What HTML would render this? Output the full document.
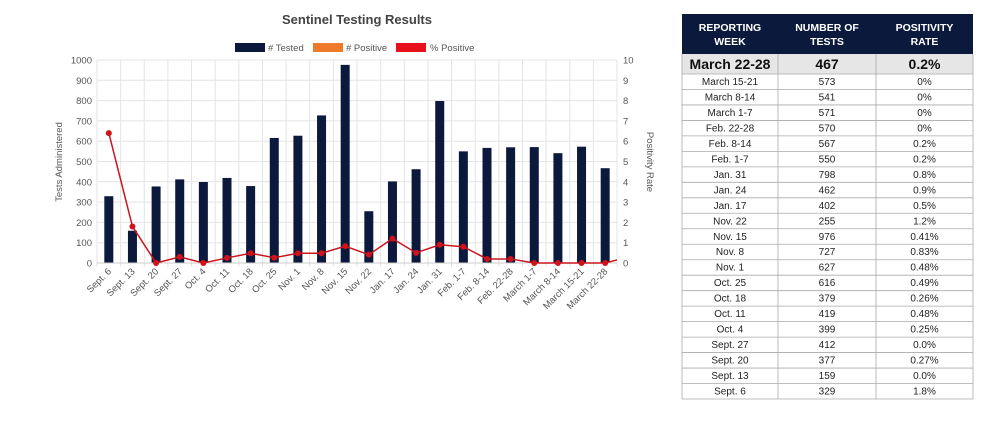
<!DOCTYPE html>
<html><head><meta charset="utf-8"><style>
body{margin:0;background:#fff;width:1000px;height:423px;overflow:hidden;font-family:"Liberation Sans",sans-serif}
</style></head><body>
<svg id="s" width="1000" height="423" xmlns="http://www.w3.org/2000/svg" font-family="Liberation Sans, sans-serif"></svg>
<script>
const s=document.getElementById('s');let h='';
const L=97,R=617,T=60,B=263;
h+=`<text x="357" y="24" text-anchor="middle" font-size="13" font-weight="bold" fill="#444">Sentinel Testing Results</text>`;
h+=`<rect x="235" y="43" width="30" height="9" fill="#0b1a3c"/><text x="268" y="51" font-size="9.5" fill="#555"># Tested</text>`;
h+=`<rect x="313" y="43" width="30" height="9" fill="#ee7a2a"/><text x="346" y="51" font-size="9.5" fill="#555"># Positive</text>`;
h+=`<rect x="396" y="43" width="30" height="9" fill="#e8101a"/><text x="430" y="51" font-size="9.5" fill="#555">% Positive</text>`;
for(let i=0;i<=10;i++){const y=B-(B-T)*i/10;
h+=`<line x1="${L}" x2="${R}" y1="${y}" y2="${y}" stroke="#e4e4e4"/>`;
h+=`<text x="${L-5}" y="${y+3.5}" text-anchor="end" font-size="9.5" fill="#555">${i*100}</text>`;
h+=`<text x="${R+6}" y="${y+3.5}" font-size="9.5" fill="#555">${i}</text>`;}
const labs=["Sept. 6","Sept. 13","Sept. 20","Sept. 27","Oct. 4","Oct. 11","Oct. 18","Oct. 25","Nov. 1","Nov. 8","Nov. 15","Nov. 22","Jan. 17","Jan. 24","Jan. 31","Feb. 1-7","Feb. 8-14","Feb. 22-28","March 1-7","March 8-14","March 15-21","March 22-28"];
const bars=[329,159,377,412,399,419,379,616,627,727,976,255,402,462,798,550,567,570,571,541,573,467];
const pct=[6.4,1.8,0,0.3,0,0.25,0.48,0.26,0.48,0.48,0.83,0.41,1.2,0.5,0.9,0.8,0.2,0.2,0,0,0,0];
const w=(R-L)/22;
for(let i=0;i<=22;i++){const x=L+w*i;h+=`<line x1="${x}" x2="${x}" y1="${T}" y2="${B+4}" stroke="#e4e4e4"/>`;}
let pts=[];
bars.forEach((v,i)=>{const cx=L+w*(i+0.5);const y=B-(B-T)*v/1000;
h+=`<rect x="${cx-4.5}" y="${y}" width="9" height="${B-y}" fill="#0b1a3c"/>`;
h+=`<text transform="translate(${cx+3},${B+9}) rotate(-45)" text-anchor="end" font-size="9.5" fill="#555">${labs[i]}</text>`;
pts.push([cx,B-(B-T)*pct[i]/10]);});
pts.push([R,B-(B-T)*0.15/10]);
h+=`<line x1="${L}" x2="${R}" y1="${B}" y2="${B}" stroke="#ccc"/>`;
h+=`<polyline points="${pts.map(p=>p.join(',')).join(' ')}" fill="none" stroke="#c8161d" stroke-width="1.5"/>`;
pts.slice(0,22).forEach(p=>h+=`<circle cx="${p[0]}" cy="${p[1]}" r="3" fill="#d0121a"/>`);
h+=`<text transform="translate(62,162) rotate(-90)" text-anchor="middle" font-size="9.5" fill="#555">Tests Administered</text>`;
h+=`<text transform="translate(647,162) rotate(90)" text-anchor="middle" font-size="9.5" fill="#555">Positivity Rate</text>`;
// table
const X0=682,X1=778,X2=876,X3=973;
h+=`<rect x="${X0}" y="14" width="${X3-X0}" height="40" fill="#0b1a3c"/>`;
[["REPORTING","WEEK",(X0+X1)/2],["NUMBER OF","TESTS",(X1+X2)/2],["POSITIVITY","RATE",(X2+X3)/2]].forEach(c=>{
h+=`<text x="${c[2]}" y="31" text-anchor="middle" font-size="10.5" font-weight="bold" fill="#fff">${c[0]}</text><text x="${c[2]}" y="45" text-anchor="middle" font-size="10.5" font-weight="bold" fill="#fff">${c[1]}</text>`;});
h+=`<rect x="${X0}" y="54" width="${X3-X0}" height="20" fill="#e6e6e6"/>`;
h+=`<text x="${(X0+X1)/2}" y="69" text-anchor="middle" font-size="14" font-weight="bold" fill="#111">March 22-28</text><text x="${(X1+X2)/2}" y="69" text-anchor="middle" font-size="14" font-weight="bold" fill="#111">467</text><text x="${(X2+X3)/2}" y="69" text-anchor="middle" font-size="14" font-weight="bold" fill="#111">0.2%</text>`;
const rows=[["March 15-21",573,"0%"],["March 8-14",541,"0%"],["March 1-7",571,"0%"],["Feb. 22-28",570,"0%"],["Feb. 8-14",567,"0.2%"],["Feb. 1-7",550,"0.2%"],["Jan. 31",798,"0.8%"],["Jan. 24",462,"0.9%"],["Jan. 17",402,"0.5%"],["Nov. 22",255,"1.2%"],["Nov. 15",976,"0.41%"],["Nov. 8",727,"0.83%"],["Nov. 1",627,"0.48%"],["Oct. 25",616,"0.49%"],["Oct. 18",379,"0.26%"],["Oct. 11",419,"0.48%"],["Oct. 4",399,"0.25%"],["Sept. 27",412,"0.0%"],["Sept. 20",377,"0.27%"],["Sept. 13",159,"0.0%"],["Sept. 6",329,"1.8%"]];
const rh=(399-74)/21;
rows.forEach((r,i)=>{const y=74+rh*i;
h+=`<line x1="${X0}" x2="${X3}" y1="${y+rh}" y2="${y+rh}" stroke="#aaa" stroke-width="0.8"/>`;
h+=`<text x="${(X0+X1)/2}" y="${y+11}" text-anchor="middle" font-size="10" fill="#222">${r[0]}</text><text x="${(X1+X2)/2}" y="${y+11}" text-anchor="middle" font-size="10" fill="#222">${r[1]}</text><text x="${(X2+X3)/2}" y="${y+11}" text-anchor="middle" font-size="10" fill="#222">${r[2]}</text>`;});
h+=`<line x1="${X0}" x2="${X3}" y1="74" y2="74" stroke="#aaa" stroke-width="0.8"/>`;
[X0,X1,X2,X3].forEach(x=>h+=`<line x1="${x}" x2="${x}" y1="54" y2="399" stroke="#aaa" stroke-width="0.8"/>`);
s.innerHTML=h;
</script>
</body></html>
